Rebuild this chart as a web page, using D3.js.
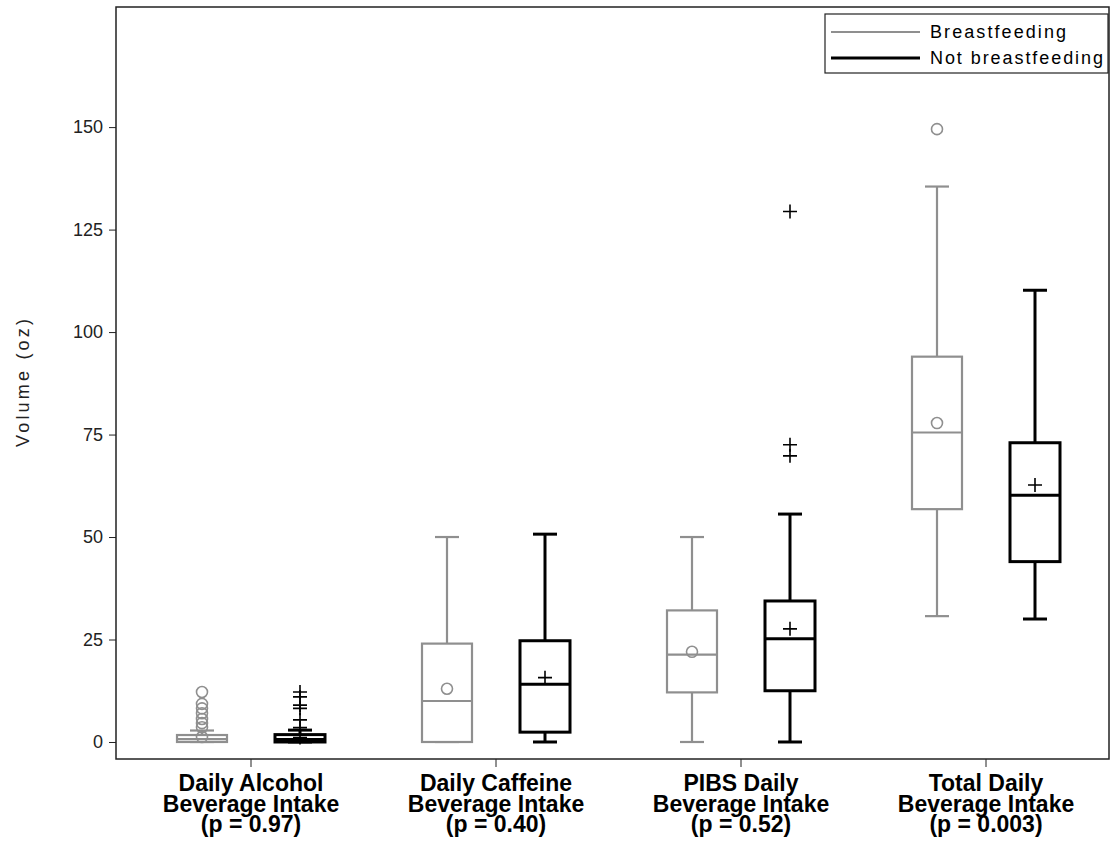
<!DOCTYPE html>
<html>
  <head>
    <meta charset="utf-8">
    <title>Beverage intake box plot</title>
    <script src="https://cdn.jsdelivr.net/npm/d3@7/dist/d3.min.js"></script>
    <style>
body { margin: 0; background: #fff; }
.tick text { font-family: "Liberation Sans", Arial, sans-serif; font-size: 18px; fill: #222; }
.xlab { font-family: "Liberation Sans", Arial, sans-serif; font-weight: bold; font-size: 23px; fill: #000; }
.legend text { font-family: "Liberation Sans", Arial, sans-serif; font-size: 18px; fill: #000; }
    </style>
  </head>
  <body>
    <script>

// categories and the x labels
var categories = ["alcohol", "caffeine", "pibs", "total"];
var catLabels = [
  ["Daily Alcohol", "Beverage Intake", "(p = 0.97)"],
  ["Daily Caffeine", "Beverage Intake", "(p = 0.40)"],
  ["PIBS Daily", "Beverage Intake", "(p = 0.52)"],
  ["Total Daily", "Beverage Intake", "(p = 0.003)"]
];
var groups = ["Breastfeeding", "Not breastfeeding"];
var yTicks = [0, 25, 50, 75, 100, 125, 150];

// box stats, one entry per category
var bfMin    = [0, 0, 0, 30.7];
var bfQ1     = [0, 0, 12.1, 56.8];
var bfMedian = [0.7, 10, 21.3, 75.5];
var bfQ3     = [1.7, 24, 32.1, 94];
var bfMax    = [2.8, 50, 50, 135.5];
var bfMean   = [1.2, 13, 22, 77.8];
var bfOut    = [[12.2, 9.3, 8.2, 7, 5.6, 4.6, 3.6], [], [], [149.5]];

var nbMin    = [0, 0, 0, 30];
var nbQ1     = [0, 2.4, 12.5, 44];
var nbMedian = [0.6, 14.1, 25.2, 60.2];
var nbQ3     = [1.8, 24.7, 34.4, 73];
var nbMax    = [2.9, 50.7, 55.6, 110.2];
var nbMean   = [1.1, 15.7, 27.6, 62.7];
var nbOut    = [[12.2, 11, 9, 8.2, 5.4, 3.5], [], [129.4, 72.5, 69.8], []];

var width = 1110, height = 841;
var pLeft = 116, pTop = 7, pRight = 1109, pBottom = 759;

var svg = d3.select("body").append("svg")
    .attr("width", width)
    .attr("height", height);

var x = d3.scaleBand().domain(categories).range([128.5, 1108.5]).padding(0);
var y = d3.scaleLinear().domain([-4.15, 179.3]).range([pBottom, pTop]);

var offset = 49, boxW = 50, capW = 24;

var stats = [
  {name: groups[0], color: "#8f8f8f", width: 2.2, off: -offset, min: bfMin, q1: bfQ1, med: bfMedian, q3: bfQ3, max: bfMax, mean: bfMean, out: bfOut, lw: 136},
  {name: groups[1], color: "#000", width: 3, off: offset, min: nbMin, q1: nbQ1, med: nbMedian, q3: nbQ3, max: nbMax, mean: nbMean, out: nbOut, lw: 173}
];

// frame
svg.append("rect")
    .attr("x", pLeft).attr("y", pTop)
    .attr("width", pRight - pLeft).attr("height", pBottom - pTop)
    .attr("fill", "none").attr("stroke", "#222").attr("stroke-width", 1.5);

// y axis
var yAxis = svg.append("g")
    .attr("transform", "translate(" + pLeft + ",0)")
    .call(d3.axisLeft(y).tickValues(yTicks).tickSize(7).tickPadding(6));
yAxis.select(".domain").remove();
yAxis.selectAll(".tick line").attr("stroke", "#222");

svg.append("text")
    .attr("transform", "translate(29," + ((pTop + pBottom) / 2) + ") rotate(-90)")
    .attr("text-anchor", "middle")
    .attr("textLength", 128)
    .style("font-family", "Liberation Sans, Arial, sans-serif")
    .style("font-size", "18px")
    .attr("fill", "#222")
    .text("Volume (oz)");

// x axis
var xAxis = svg.append("g")
    .attr("transform", "translate(0," + pBottom + ")")
    .call(d3.axisBottom(x).tickSize(8).tickFormat(""));
xAxis.select(".domain").remove();
xAxis.selectAll(".tick line").attr("stroke", "#222");

categories.forEach(function(c, i) {
  var t = svg.append("text").attr("class", "xlab")
      .attr("text-anchor", "middle")
      .attr("transform", "translate(" + (x(c) + x.bandwidth() / 2) + ",791)");
  catLabels[i].forEach(function(line, j) {
    t.append("tspan").attr("x", 0).attr("y", j * 20.5).text(line);
  });
});

// boxes
stats.forEach(function(s) {
  var g = svg.append("g")
      .attr("stroke", s.color)
      .attr("fill", "none")
      .attr("stroke-width", s.width);
  categories.forEach(function(c, i) {
    var cx = x(c) + x.bandwidth() / 2 + s.off;
    // whiskers
    g.append("line").attr("x1", cx).attr("x2", cx).attr("y1", y(s.q3[i])).attr("y2", y(s.max[i]));
    g.append("line").attr("x1", cx).attr("x2", cx).attr("y1", y(s.q1[i])).attr("y2", y(s.min[i]));
    g.append("line").attr("x1", cx - capW / 2).attr("x2", cx + capW / 2).attr("y1", y(s.max[i])).attr("y2", y(s.max[i]));
    g.append("line").attr("x1", cx - capW / 2).attr("x2", cx + capW / 2).attr("y1", y(s.min[i])).attr("y2", y(s.min[i]));
    // box
    g.append("rect")
        .attr("x", cx - boxW / 2).attr("width", boxW)
        .attr("y", y(s.q3[i])).attr("height", Math.max(y(s.q1[i]) - y(s.q3[i]), 0.5))
        .attr("fill", "#fff");
    g.append("line").attr("x1", cx - boxW / 2).attr("x2", cx + boxW / 2).attr("y1", y(s.med[i])).attr("y2", y(s.med[i]));

    // mean and outliers
    var pts = [s.mean[i]].concat(s.out[i]);
    pts.forEach(function(v) {
      if (s.off < 0) {
        g.append("circle").attr("cx", cx).attr("cy", y(v)).attr("r", 5.5)
            .attr("stroke-width", 1.6).attr("fill", "none");
      } else {
        g.append("path")
            .attr("d", "M" + (cx - 7) + "," + y(v) + "H" + (cx + 7) + "M" + cx + "," + (y(v) - 7) + "V" + (y(v) + 7))
            .attr("stroke-width", 1.6);
      }
    });
  });
});

// legend
var lg = svg.append("g").attr("class", "legend");
lg.append("rect").attr("x", 825).attr("y", 14).attr("width", 283).attr("height", 59)
    .attr("fill", "#fff").attr("stroke", "#222").attr("stroke-width", 1.2);
stats.forEach(function(s, i) {
  var ly = 32 + i * 26;
  lg.append("line").attr("x1", 831).attr("x2", 920).attr("y1", ly).attr("y2", ly)
      .attr("stroke", s.color).attr("stroke-width", s.width);
  lg.append("text").attr("x", 930).attr("y", ly + 6)
      .attr("textLength", s.lw)
      .text(s.name);
});

</script>
  </body>
</html>
